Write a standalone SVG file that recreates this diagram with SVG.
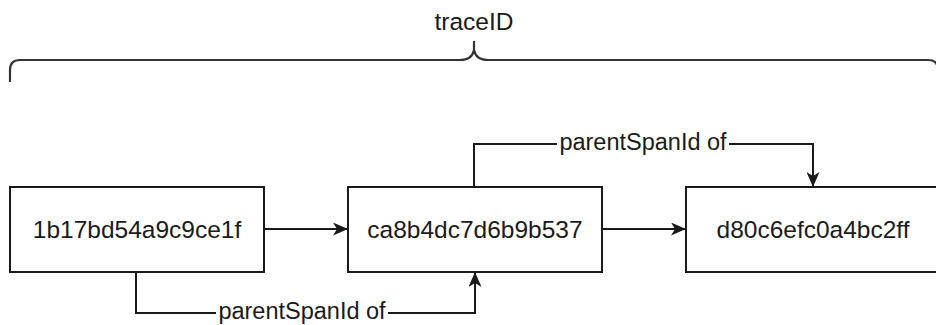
<svg xmlns="http://www.w3.org/2000/svg" width="936" height="325" viewBox="0 0 936 325">
  <style>
    .box { fill: #ffffff; stroke: #1a1a1a; stroke-width: 2; }
    .txt { font-family: "Liberation Sans", Arial, Helvetica, sans-serif; font-size: 24.5px; fill: #1a1a1a; text-anchor: middle; dominant-baseline: central; }
    .lbl { font-family: "Liberation Sans", Arial, Helvetica, sans-serif; font-size: 23.5px; fill: #1a1a1a; text-anchor: middle; dominant-baseline: central; }
    .edge { fill: none; stroke: #1a1a1a; stroke-width: 2; }
    .brace { fill: none; stroke: #333333; stroke-width: 2.2; }
  </style>
  <defs>
    <marker id="arr" viewBox="0 0 15 13" refX="14" refY="6.5" markerWidth="15" markerHeight="13" markerUnits="userSpaceOnUse" orient="auto">
      <path d="M0,0 L15,6.5 L0,13 L4,6.5 Z" fill="#1a1a1a"/>
    </marker>
  </defs>
  <rect width="936" height="325" fill="#ffffff"/>

  <g id="trace">
    <path class="brace" d="M10,82 V70 Q10,60 20,60 H460 Q472,60 474,50 V41 M474,50 Q476,60 488,60 H928 Q938,60 938,70 V82"/>
    <text class="txt" x="474" y="21">traceID</text>
  </g>

  <g id="connectors">
    <line class="edge" x1="264" y1="229" x2="347" y2="229" marker-end="url(#arr)"/>
    <line class="edge" x1="602" y1="229" x2="685" y2="229" marker-end="url(#arr)"/>
    <polyline class="edge" points="136,272 136,313 475,313 475,273" marker-end="url(#arr)"/>
    <polyline class="edge" points="474,187 474,144 813,144 813,186" marker-end="url(#arr)"/>
    <rect x="216" y="300" width="172" height="24" fill="#ffffff"/>
    <text class="lbl" x="302" y="311">parentSpanId of</text>
    <rect x="557" y="131" width="172" height="24" fill="#ffffff"/>
    <text class="lbl" x="643" y="142">parentSpanId of</text>
  </g>

  <g id="span1">
    <rect class="box" x="10" y="187" width="254" height="85"/>
    <text class="txt" x="137" y="229">1b17bd54a9c9ce1f</text>
  </g>
  <g id="span2">
    <rect class="box" x="348" y="187" width="254" height="85"/>
    <text class="txt" x="475" y="229">ca8b4dc7d6b9b537</text>
  </g>
  <g id="span3">
    <rect class="box" x="686" y="187" width="260" height="85"/>
    <text class="txt" x="813" y="229">d80c6efc0a4bc2ff</text>
  </g>
</svg>
